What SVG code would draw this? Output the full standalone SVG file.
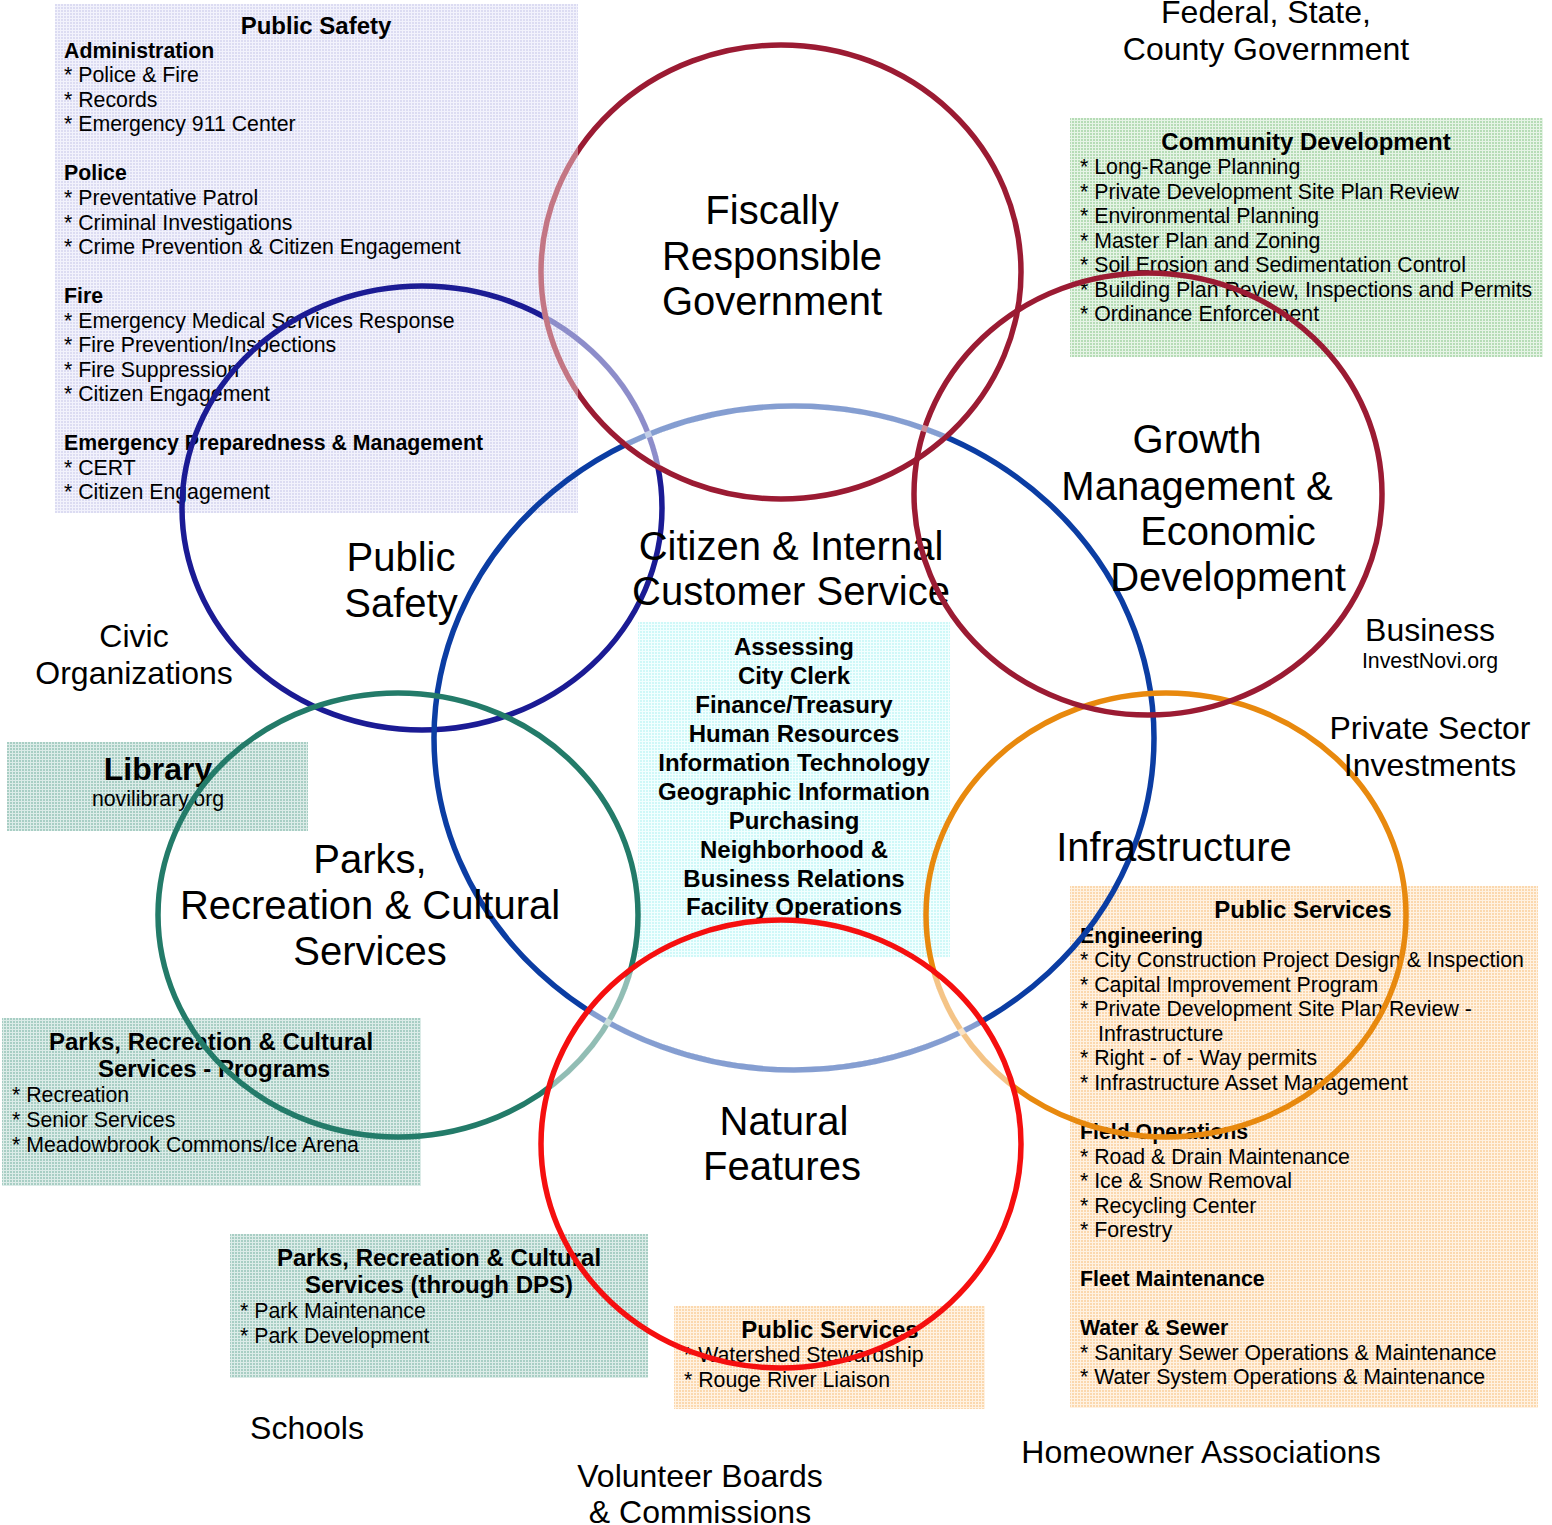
<svg xmlns="http://www.w3.org/2000/svg" width="1552" height="1525" viewBox="0 0 1552 1525">
<style>
.t{font-family:"Liberation Sans",Arial,sans-serif;fill:#000}
.b{font-size:21.3px}
.h{font-size:21.3px;font-weight:bold}
.ti{font-size:24px;font-weight:bold;text-anchor:middle}
.tp{font-size:24px;font-weight:bold;text-anchor:middle}
.cb{font-size:24px;font-weight:bold;text-anchor:middle}
.big{font-size:40px;text-anchor:middle}
.out{font-size:32px;text-anchor:middle}
.ring{fill:none;stroke-width:5.5}
.wash{fill:none;stroke:#fff;stroke-width:6.5;opacity:0.5}
</style>
<defs>
<pattern id="pLav" width="3" height="3" patternUnits="userSpaceOnUse"><rect width="3" height="3" fill="#dcdcf2"/><path d="M0 0.5H3M0.5 0V3" stroke="#f2f2fc" stroke-width="1"/></pattern>
<pattern id="pGrn" width="3" height="3" patternUnits="userSpaceOnUse"><rect width="3" height="3" fill="#b6dcb6"/><path d="M0 0.5H3M0.5 0V3" stroke="#e6f4e6" stroke-width="1"/></pattern>
<pattern id="pCyn" width="3" height="3" patternUnits="userSpaceOnUse"><rect width="3" height="3" fill="#cff8f8"/><path d="M0 0.5H3M0.5 0V3" stroke="#f2ffff" stroke-width="1"/></pattern>
<pattern id="pTeal" width="3" height="3" patternUnits="userSpaceOnUse"><rect width="3" height="3" fill="#a8cec4"/><path d="M0 0.5H3M0.5 0V3" stroke="#dcece8" stroke-width="1"/></pattern>
<pattern id="pPch" width="3" height="3" patternUnits="userSpaceOnUse"><rect width="3" height="3" fill="#fbd8ae"/><path d="M0 0.5H3M0.5 0V3" stroke="#fff2e2" stroke-width="1"/></pattern>
<clipPath id="inFiscal"><ellipse cx="781" cy="272" rx="237" ry="225"/></clipPath>
<clipPath id="inNatural"><ellipse cx="781" cy="1144" rx="237" ry="221"/></clipPath>
<clipPath id="inPSBox"><rect x="55" y="4" width="523" height="509"/></clipPath>
</defs>
<rect width="1552" height="1525" fill="#fff"/>

<g id="box-public-safety">
<rect x="55" y="4" width="523" height="509" fill="url(#pLav)"/>
<text class="t ti" x="316" y="34">Public Safety</text>
<text class="t h" x="64" y="58">Administration</text>
<text class="t b" x="64" y="82">* Police &amp; Fire</text>
<text class="t b" x="64" y="107">* Records</text>
<text class="t b" x="64" y="131">* Emergency 911 Center</text>
<text class="t h" x="64" y="180">Police</text>
<text class="t b" x="64" y="205">* Preventative Patrol</text>
<text class="t b" x="64" y="230">* Criminal Investigations</text>
<text class="t b" x="64" y="254">* Crime Prevention &amp; Citizen Engagement</text>
<text class="t h" x="64" y="303">Fire</text>
<text class="t b" x="64" y="328">* Emergency Medical Services Response</text>
<text class="t b" x="64" y="352">* Fire Prevention/Inspections</text>
<text class="t b" x="64" y="377">* Fire Suppression</text>
<text class="t b" x="64" y="401">* Citizen Engagement</text>
<text class="t h" x="64" y="450">Emergency Preparedness &amp; Management</text>
<text class="t b" x="64" y="475">* CERT</text>
<text class="t b" x="64" y="499">* Citizen Engagement</text>
</g>

<g id="box-community-development">
<rect x="1070" y="118" width="473" height="239" fill="url(#pGrn)"/>
<text class="t ti" x="1306" y="150">Community Development</text>
<text class="t b" x="1080" y="174">* Long-Range Planning</text>
<text class="t b" x="1080" y="199">* Private Development Site Plan Review</text>
<text class="t b" x="1080" y="223">* Environmental Planning</text>
<text class="t b" x="1080" y="248">* Master Plan and Zoning</text>
<text class="t b" x="1080" y="272">* Soil Erosion and Sedimentation Control</text>
<text class="t b" x="1080" y="297">* Building Plan Review, Inspections and Permits</text>
<text class="t b" x="1080" y="321">* Ordinance Enforcement</text>
</g>

<g id="box-internal-services">
<rect x="638" y="622" width="312" height="335" fill="url(#pCyn)"/>
<text class="t cb" x="794" y="655">Assessing</text>
<text class="t cb" x="794" y="684">City Clerk</text>
<text class="t cb" x="794" y="713">Finance/Treasury</text>
<text class="t cb" x="794" y="742">Human Resources</text>
<text class="t cb" x="794" y="771">Information Technology</text>
<text class="t cb" x="794" y="800">Geographic Information</text>
<text class="t cb" x="794" y="829">Purchasing</text>
<text class="t cb" x="794" y="858">Neighborhood &amp;</text>
<text class="t cb" x="794" y="887">Business Relations</text>
<text class="t cb" x="794" y="915">Facility Operations</text>
</g>

<g id="box-library">
<rect x="7" y="742" width="301" height="89" fill="url(#pTeal)"/>
<text class="t" x="158" y="780" style="font-size:32px;font-weight:bold;text-anchor:middle">Library</text>
<text class="t b" x="158" y="806" style="text-anchor:middle">novilibrary.org</text>
</g>

<g id="box-parks-programs">
<rect x="2" y="1018" width="419" height="168" fill="url(#pTeal)"/>
<text class="t tp" x="211" y="1050">Parks, Recreation &amp; Cultural</text>
<text class="t tp" x="214" y="1077">Services - Programs</text>
<text class="t b" x="12" y="1102">* Recreation</text>
<text class="t b" x="12" y="1127">* Senior Services</text>
<text class="t b" x="12" y="1152">* Meadowbrook Commons/Ice Arena</text>
</g>

<g id="box-parks-dps">
<rect x="230" y="1234" width="418" height="144" fill="url(#pTeal)"/>
<text class="t tp" x="439" y="1266">Parks, Recreation &amp; Cultural</text>
<text class="t tp" x="439" y="1293">Services (through DPS)</text>
<text class="t b" x="240" y="1318">* Park Maintenance</text>
<text class="t b" x="240" y="1343">* Park Development</text>
</g>

<g id="box-public-services-small">
<rect x="674" y="1306" width="311" height="103" fill="url(#pPch)"/>
<text class="t ti" x="830" y="1338">Public Services</text>
<text class="t b" x="684" y="1362">* Watershed Stewardship</text>
<text class="t b" x="684" y="1387">* Rouge River Liaison</text>
</g>

<g id="box-public-services">
<rect x="1070" y="886" width="468" height="522" fill="url(#pPch)"/>
<text class="t ti" x="1303" y="918">Public Services</text>
<text class="t h" x="1080" y="943">Engineering</text>
<text class="t b" x="1080" y="967">* City Construction Project Design &amp; Inspection</text>
<text class="t b" x="1080" y="992">* Capital Improvement Program</text>
<text class="t b" x="1080" y="1016">* Private Development Site Plan Review -</text>
<text class="t b" x="1098" y="1041">Infrastructure</text>
<text class="t b" x="1080" y="1065">* Right - of - Way permits</text>
<text class="t b" x="1080" y="1090">* Infrastructure Asset Management</text>
<text class="t h" x="1080" y="1139">Field Operations</text>
<text class="t b" x="1080" y="1164">* Road &amp; Drain Maintenance</text>
<text class="t b" x="1080" y="1188">* Ice &amp; Snow Removal</text>
<text class="t b" x="1080" y="1213">* Recycling Center</text>
<text class="t b" x="1080" y="1237">* Forestry</text>
<text class="t h" x="1080" y="1286">Fleet Maintenance</text>
<text class="t h" x="1080" y="1335">Water &amp; Sewer</text>
<text class="t b" x="1080" y="1360">* Sanitary Sewer Operations &amp; Maintenance</text>
<text class="t b" x="1080" y="1384">* Water System Operations &amp; Maintenance</text>
</g>

<g id="circle-public-safety">
<ellipse class="ring" cx="422" cy="508" rx="240" ry="222" stroke="#1b1b94"/>
<text class="t big" x="401" y="571">Public</text>
<text class="t big" x="401" y="617">Safety</text>
</g>
<g id="circle-citizen-service">
<ellipse class="ring" cx="794" cy="738" rx="360" ry="332" stroke="#0b3da3"/>
<text class="t big" x="791" y="560">Citizen &amp; Internal</text>
<text class="t big" x="791" y="605">Customer Service</text>
</g>
<g id="circle-parks">
<ellipse class="ring" cx="398" cy="915" rx="240" ry="222" stroke="#237b69"/>
<text class="t big" x="370" y="873">Parks,</text>
<text class="t big" x="370" y="919">Recreation &amp; Cultural</text>
<text class="t big" x="370" y="965">Services</text>
</g>
<g id="circle-infrastructure">
<ellipse class="ring" cx="1166" cy="915" rx="240" ry="222" stroke="#e8890e"/>
<text class="t big" x="1174" y="861">Infrastructure</text>
</g>
<g id="circle-growth">
<ellipse class="ring" cx="1148" cy="494" rx="234" ry="221" stroke="#9b1b33"/>
<text class="t big" x="1197" y="453">Growth</text>
<text class="t big" x="1197" y="500">Management &amp;</text>
<text class="t big" x="1228" y="545">Economic</text>
<text class="t big" x="1228" y="591">Development</text>
</g>
<g id="circle-fiscal">
<ellipse class="ring" cx="781" cy="272" rx="240" ry="227" stroke="#9b1b33"/>
<text class="t big" x="772" y="224">Fiscally</text>
<text class="t big" x="772" y="270">Responsible</text>
<text class="t big" x="772" y="315">Government</text>
</g>
<g id="circle-natural">
<ellipse class="ring" cx="781" cy="1144" rx="240" ry="224" stroke="#f50f0f"/>
<text class="t big" x="784" y="1135">Natural</text>
<text class="t big" x="782" y="1180">Features</text>
</g>

<g id="overlaps">
<ellipse class="wash" cx="422" cy="508" rx="240" ry="222" clip-path="url(#inFiscal)"/>
<ellipse class="wash" cx="794" cy="738" rx="360" ry="332" clip-path="url(#inFiscal)"/>
<ellipse class="wash" cx="794" cy="738" rx="360" ry="332" clip-path="url(#inNatural)"/>
<ellipse class="wash" cx="398" cy="915" rx="240" ry="222" clip-path="url(#inNatural)"/>
<ellipse class="wash" cx="1166" cy="915" rx="240" ry="222" clip-path="url(#inNatural)"/>
<ellipse class="wash" cx="781" cy="272" rx="240" ry="227" clip-path="url(#inPSBox)" style="opacity:0.4"/>
</g>

<g id="connectors"></g>

<g id="context-labels">
<text class="t out" x="1266" y="23">Federal, State,</text>
<text class="t out" x="1266" y="60">County Government</text>
<text class="t out" x="134" y="647">Civic</text>
<text class="t out" x="134" y="684">Organizations</text>
<text class="t out" x="1430" y="641">Business</text>
<text class="t b" x="1430" y="668" style="text-anchor:middle">InvestNovi.org</text>
<text class="t out" x="1430" y="739">Private Sector</text>
<text class="t out" x="1430" y="776">Investments</text>
<text class="t out" x="307" y="1439">Schools</text>
<text class="t out" x="700" y="1487">Volunteer Boards</text>
<text class="t out" x="700" y="1523">&amp; Commissions</text>
<text class="t out" x="1201" y="1463">Homeowner Associations</text>
</g>
</svg>
